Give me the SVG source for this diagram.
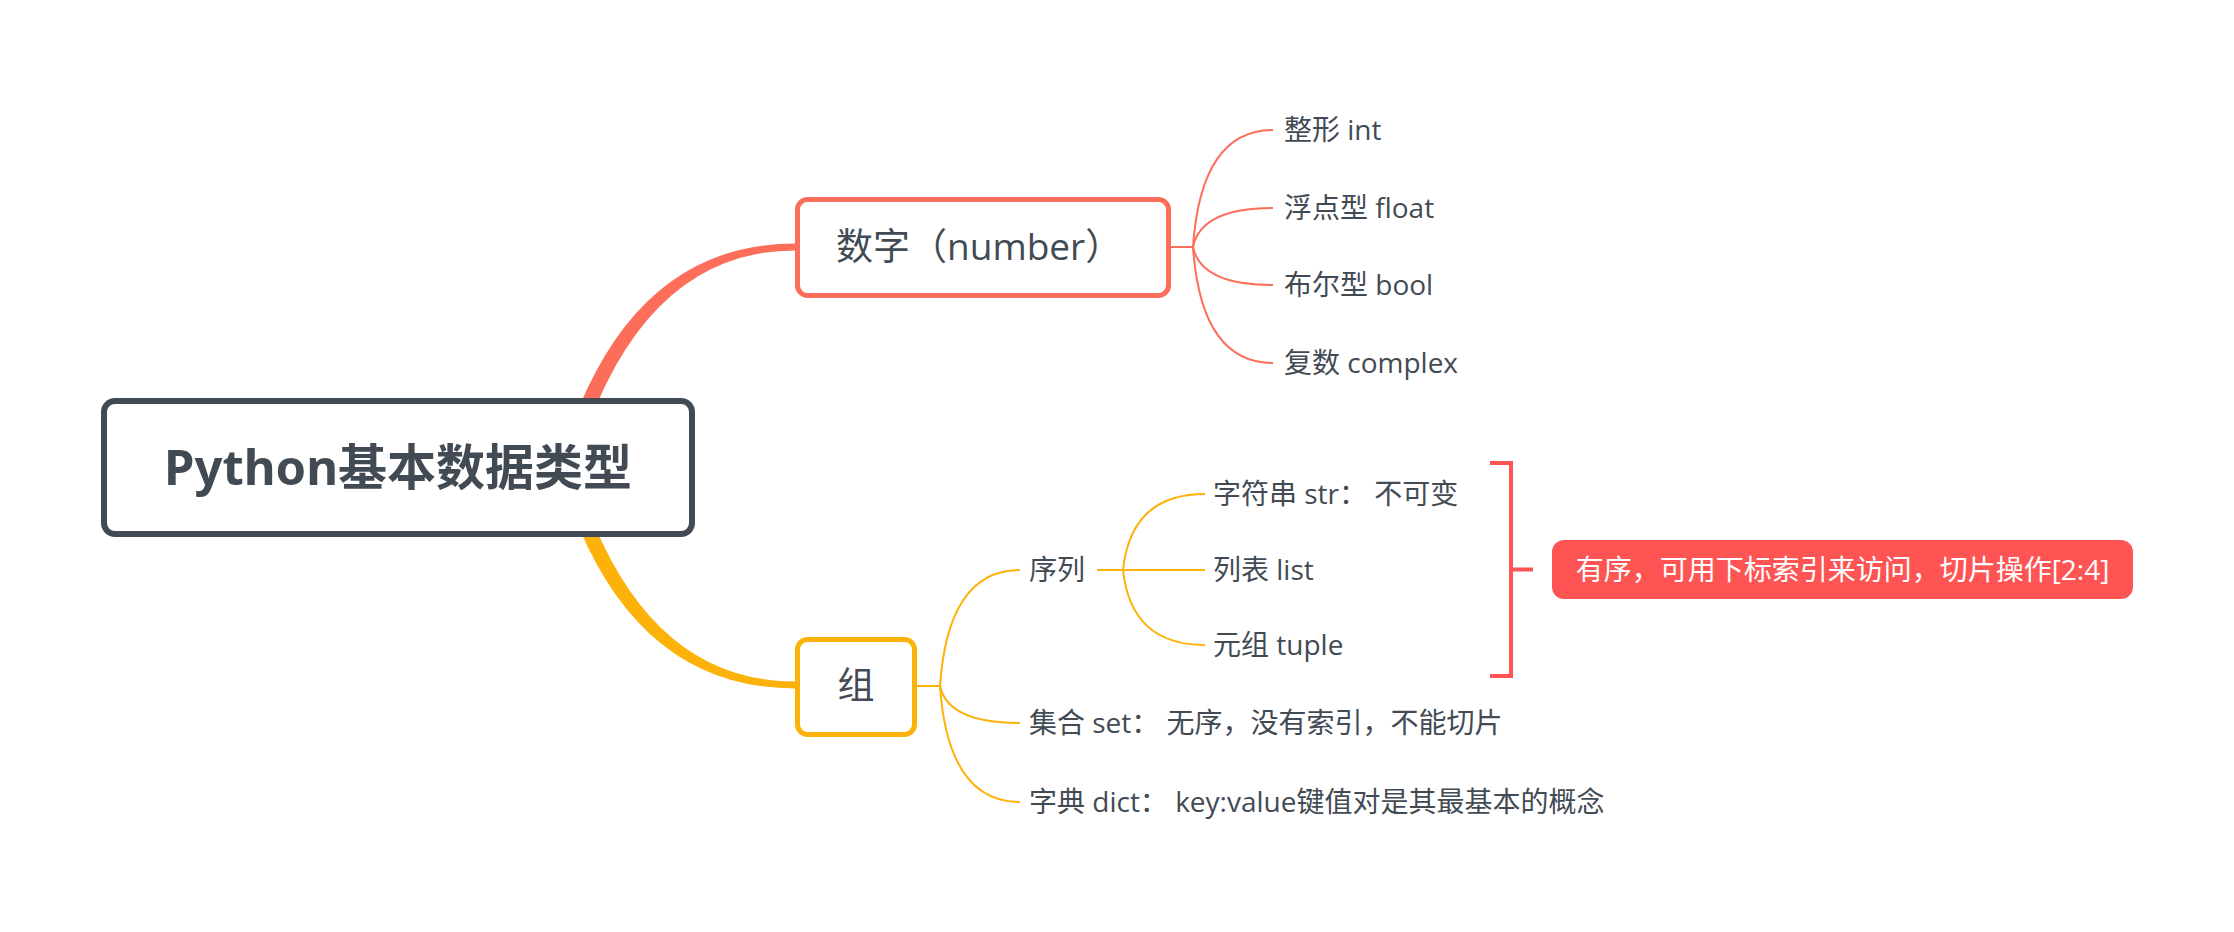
<svg xmlns="http://www.w3.org/2000/svg" width="2234" height="932" viewBox="0 0 2234 932">
  <style>
    .t { font-family: "Open Sans", "Noto Sans CJK SC", sans-serif; fill: #424B54; }
    .sub { font-size: 28px; }
    .main { font-size: 37px; }
    .root { font-size: 49px; font-weight: bold; font-family: "Noto Sans", "Noto Sans CJK SC", sans-serif; fill: #424B54; }
    .lr { fill: none; stroke: #FC6E5A; stroke-width: 2; }
    .ly { fill: none; stroke: #FDB20A; stroke-width: 2; }
    .box { fill: #FFFFFF; stroke-width: 5; }
  </style>
  <rect width="2234" height="932" fill="#FFFFFF"/>
  <g id="connectors">
    <path d="M 558 468 Q 622 243.5 795 243.5 L 795 250.5 Q 638 250.5 574 468 Z" fill="#FC6E5A"/>
    <path d="M 558 468 Q 622 688.5 795 688.5 L 795 681.5 Q 638 681.5 574 468 Z" fill="#FDB20A"/>
    <path class="lr" d="M 1168 247 H 1193"/>
    <path class="lr" d="M 1193 247 Q 1201 130 1273 130"/>
    <path class="lr" d="M 1193 247 Q 1201 208 1273 208"/>
    <path class="lr" d="M 1193 247 Q 1201 285 1273 285"/>
    <path class="lr" d="M 1193 247 Q 1201 363 1273 363"/>
    <path class="ly" d="M 915 686 H 940"/>
    <path class="ly" d="M 940 686 Q 948 570 1020 570"/>
    <path class="ly" d="M 940 686 Q 948 723 1020 723"/>
    <path class="ly" d="M 940 686 Q 948 802 1020 802"/>
    <path class="ly" d="M 1097 570 H 1123"/>
    <path class="ly" d="M 1123 570 Q 1131 494 1205 494"/>
    <path class="ly" d="M 1123 570 H 1205"/>
    <path class="ly" d="M 1123 570 Q 1131 645 1205 645"/>
    <path d="M 1490 463 H 1511 V 676 H 1490 M 1511 569.5 H 1533" fill="none" stroke="#FE5454" stroke-width="4"/>
  </g>
  <g id="root">
    <rect x="104" y="401" width="588" height="133" rx="11" fill="#FFFFFF" stroke="#424B54" stroke-width="6"/>
    <text class="root" x="398" y="485" text-anchor="middle">Python基本数据类型</text>
  </g>
  <g id="number">
    <rect class="box" x="797.5" y="199.5" width="371" height="96" rx="10" stroke="#FC6E5A"/>
    <text class="t main" x="836" y="260">数字（number）</text>
  </g>
  <g id="int"><text class="t sub" x="1284" y="140">整形 int</text></g>
  <g id="float"><text class="t sub" x="1284" y="218">浮点型 float</text></g>
  <g id="bool"><text class="t sub" x="1284" y="295">布尔型 bool</text></g>
  <g id="complex"><text class="t sub" x="1284" y="373">复数 complex</text></g>
  <g id="group">
    <rect class="box" x="797.5" y="639.5" width="117" height="95" rx="10" stroke="#FDB20A"/>
    <text class="t main" x="856" y="699" text-anchor="middle">组</text>
  </g>
  <g id="sequence"><text class="t sub" x="1029" y="580">序列</text></g>
  <g id="set"><text class="t sub" x="1029" y="733">集合 set： 无序，没有索引，不能切片</text></g>
  <g id="dict"><text class="t sub" x="1029" y="812">字典 dict： key:value键值对是其最基本的概念</text></g>
  <g id="str"><text class="t sub" x="1213" y="504">字符串 str： 不可变</text></g>
  <g id="list"><text class="t sub" x="1213" y="580">列表 list</text></g>
  <g id="tuple"><text class="t sub" x="1213" y="655">元组 tuple</text></g>
  <g id="note">
    <rect x="1552" y="540" width="581" height="59" rx="12" fill="#FE5454"/>
    <text class="t sub" x="1842.5" y="579.5" text-anchor="middle" style="fill:#FFFFFF">有序，可用下标索引来访问，切片操作[2:4]</text>
  </g>
</svg>
